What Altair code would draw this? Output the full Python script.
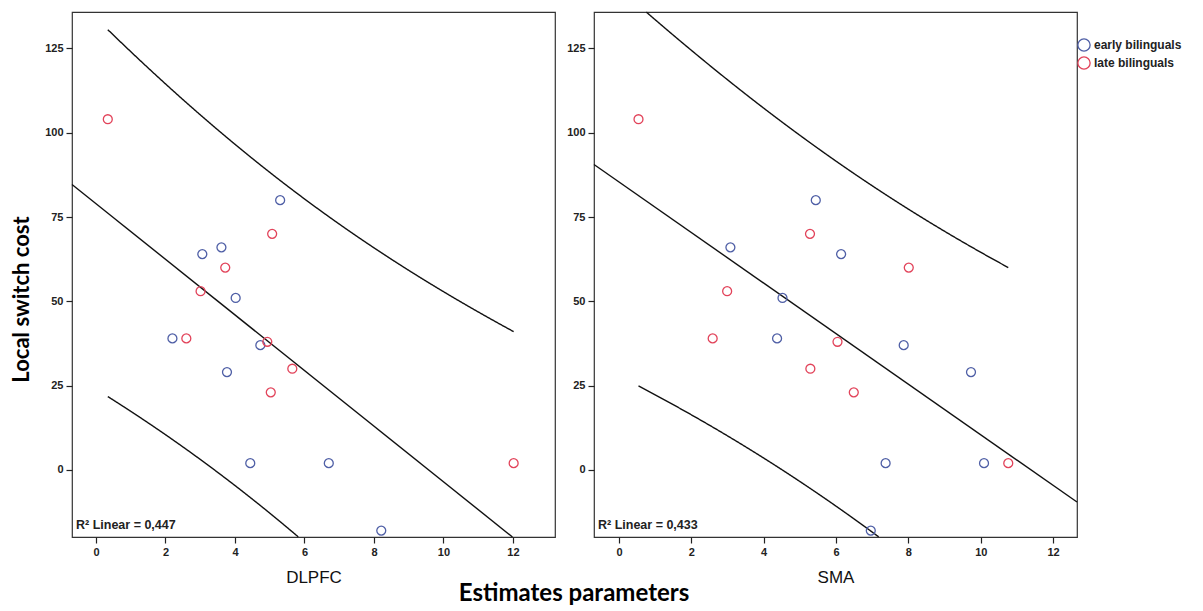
import altair as alt
import numpy as np
import pandas as pd

# ---------------- data ----------------
GROUPS = ["early bilinguals", "late bilinguals"]
COLORS = ["#4f5fa6", "#e2435a"]

# local switch cost (y) for each participant, same people in both panels
early_cost = [80, 66, 64, 51, 39, 37, 29, 2, 2, -18]
late_cost = [104, 70, 60, 53, 39, 38, 30, 23, 2]

# DLPFC estimates (x)
dlpfc_early = [5.30, 3.61, 3.06, 4.02, 2.20, 4.73, 3.77, 4.44, 6.70, 8.21]
dlpfc_late = [0.34, 5.07, 3.72, 3.01, 2.60, 4.93, 5.65, 5.03, 12.02]

# SMA estimates (x)
sma_early = [5.44, 3.08, 6.14, 4.52, 4.37, 7.87, 9.73, 7.37, 10.09, 6.96]
sma_late = [0.54, 5.28, 8.01, 2.99, 2.59, 6.04, 5.29, 6.49, 10.76]

panel_names = ["DLPFC", "SMA"]
r2_labels = ["R² Linear = 0,447", "R² Linear = 0,433"]
x_domains = [[-0.69, 13.21], [-0.69, 12.66]]
y_domain = [-19.9, 135.8]
y_ticks = [0, 25, 50, 75, 100, 125]
x_ticks = [0, 2, 4, 6, 8, 10, 12]
T_CRIT = 2.1098  # t(0.975, df = 17) for the 95% individual prediction interval

PW, PH = 483, 525


def panel(name, ex, lx, xdom, r2, first):
    pts = pd.DataFrame({
        "x": ex + lx,
        "y": early_cost + late_cost,
        "group": [GROUPS[0]] * len(ex) + [GROUPS[1]] * len(lx),
    })
    x = np.array(ex + lx, dtype=float)
    y = np.array(early_cost + late_cost, dtype=float)
    n = len(x)
    b, a = np.polyfit(x, y, 1)
    resid = y - (a + b * x)
    s = np.sqrt((resid ** 2).sum() / (n - 2))
    xm = x.mean()
    sxx = ((x - xm) ** 2).sum()
    ylo, yhi = y_domain

    # fitted line, cut where it leaves the plot frame
    xs = sorted([(ylo - a) / b, (yhi - a) / b])
    x0, x1 = max(xdom[0], xs[0]), min(xdom[1], xs[1])
    fx = np.array([x0, x1])
    fit = pd.DataFrame({"x": fx, "y": a + b * fx})

    # 95% prediction interval over the range of the data
    g = np.linspace(x.min(), x.max(), 800)
    half = T_CRIT * s * np.sqrt(1 + 1 / n + (g - xm) ** 2 / sxx)
    band = pd.DataFrame({
        "x": np.concatenate([g, g]),
        "y": np.concatenate([a + b * g + half, a + b * g - half]),
        "side": ["upper"] * len(g) + ["lower"] * len(g),
    })
    band = band[(band["y"] >= ylo) & (band["y"] <= yhi)]

    x_enc = alt.X(
        "x:Q",
        scale=alt.Scale(domain=xdom, nice=False, zero=False),
        axis=alt.Axis(values=x_ticks, title=name, titleFont="Liberation Sans",
                      titleFontSize=17, titleFontWeight="normal", titlePadding=12,
                      titleColor="#111"),
    )
    y_axis_kw = dict(values=y_ticks, title="Local switch cost" if first else "",
                     titleFont="Lato", titleFontSize=22, titleFontWeight="bold",
                     titlePadding=11, titleColor="#000")
    if first:
        y_axis_kw["titleY"] = 287
    y_enc = alt.Y(
        "y:Q",
        scale=alt.Scale(domain=y_domain, nice=False, zero=False),
        axis=alt.Axis(**y_axis_kw),
    )

    pts_layer = alt.Chart(pts).mark_point(filled=False, size=80, strokeWidth=1.3, opacity=1).encode(
        x=x_enc, y=y_enc,
        color=alt.Color("group:N", scale=alt.Scale(domain=GROUPS, range=COLORS),
                        legend=alt.Legend(title=None)),
    )
    fit_layer = alt.Chart(fit).mark_line(color="#111", strokeWidth=1.4).encode(
        x=x_enc, y=y_enc)
    band_layer = alt.Chart(band).mark_line(color="#111", strokeWidth=1.4).encode(
        x=x_enc, y=y_enc, detail="side:N", order="x:Q")
    txt = alt.Chart(pd.DataFrame({"label": [r2]})).mark_text(
        align="left", baseline="middle", font="Liberation Sans", fontWeight="bold",
        fontSize=12.5, color="#222",
    ).encode(x=alt.value(4), y=alt.value(PH - 12), text="label:N")

    return alt.layer(band_layer, fit_layer, pts_layer, txt).properties(width=PW, height=PH)


left = panel(panel_names[0], dlpfc_early, dlpfc_late, x_domains[0], r2_labels[0], True)
right = panel(panel_names[1], sma_early, sma_late, x_domains[1], r2_labels[1], False)

chart = alt.hconcat(left, right, spacing=10).properties(
    padding={"left": 2, "top": 0, "right": 0, "bottom": 0},
    title=alt.TitleParams(
        "Estimates parameters", orient="bottom", anchor="middle",
        font="Lato", fontSize=24, fontWeight="bold", color="#000", offset=-4, dx=-22,
    ),
).configure_view(
    stroke="#333", strokeWidth=1.2
).configure_axis(
    grid=False, domain=False, tickColor="#222", tickSize=6, tickWidth=1.2,
    labelFont="Liberation Sans", labelFontWeight="bold", labelFontSize=11,
    labelColor="#222", labelPadding=3,
).configure_legend(
    orient="none", legendX=1005, legendY=26, padding=0,
    symbolType="circle", symbolSize=150, symbolStrokeWidth=1.3,
    labelFont="Liberation Sans", labelFontWeight="bold", labelFontSize=12,
    labelColor="#222", labelOffset=3, rowPadding=0,
)

chart.save("out.html", embed_options={"renderer": "svg", "actions": False})
